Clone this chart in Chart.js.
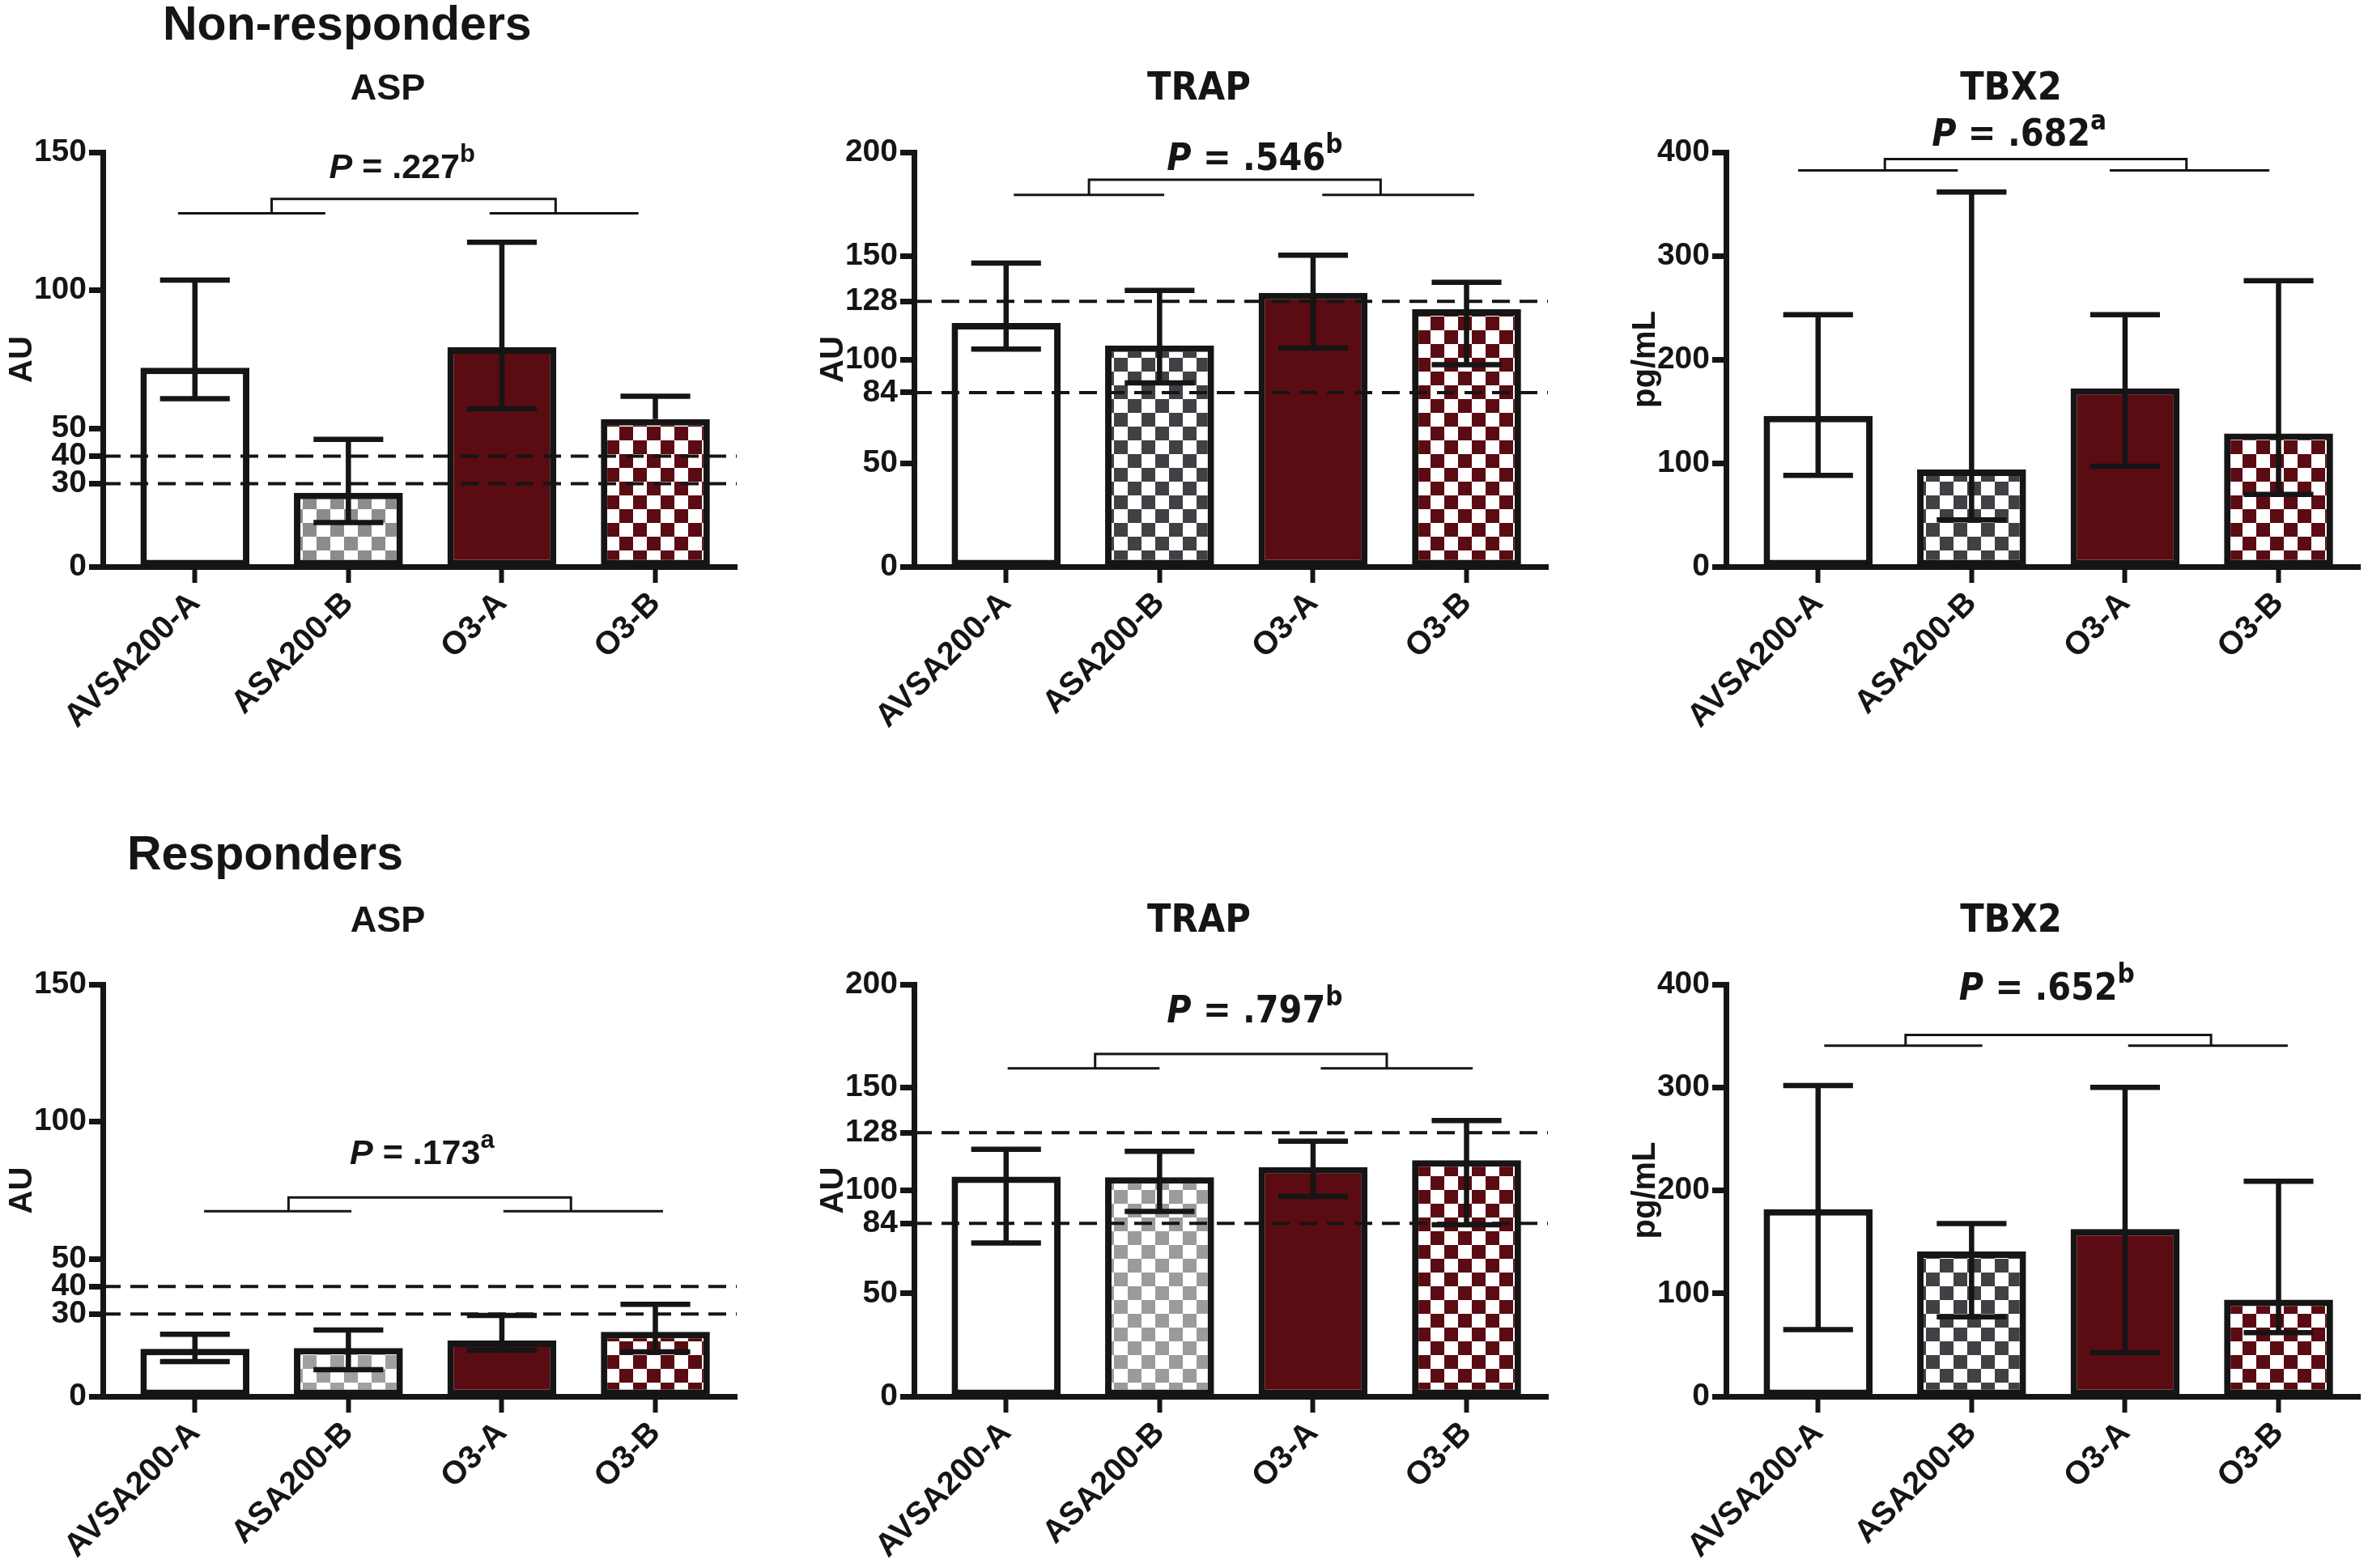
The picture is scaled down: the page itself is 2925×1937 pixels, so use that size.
<!DOCTYPE html>
<html>
<head>
<meta charset="utf-8">
<script src="https://cdn.jsdelivr.net/npm/chart.js@4.4.1/dist/chart.umd.min.js"></script>
<style>
  html, body { margin: 0; padding: 0; background: #fff; }
  #page { position: relative; width: 2925px; height: 1937px; overflow: hidden; background: #fff; }
  .panel { position: absolute; }
  .heading { position: absolute; font: bold 59px "Liberation Sans", Arial, sans-serif; line-height: 59px; color: #151515; }
</style>
</head>
<body>
<div id="page">
  <div class="heading" style="left:201px; top:0px">Non-responders</div>
  <div class="heading" style="left:157px; top:1025px">Responders</div>
</div>
<script>
const categories = ["AVSA200-A", "ASA200-B", "O3-A", "O3-B"];

// Non-responders
const nrAspMean = [72, 26.7, 79.4, 53.4];
const nrAspHigh = [103.7, 46.1, 117.4, 61.7];
const nrAspLow = [60.8, 16.0, 57.1, null];
const nrTrapMean = [117.6, 106.7, 132.1, 124.2];
const nrTrapHigh = [146.5, 133.3, 150.3, 137.2];
const nrTrapLow = [105, 88.7, 105.5, 97.5];
const nrTbxMean = [145.6, 93.7, 172, 128.6];
const nrTbxHigh = [243.2, 361.6, 243.2, 276];
const nrTbxLow = [88.1, 45.1, 96.9, 69.8];

// Responders
const rAspMean = [17.3, 17.6, 20.3, 23.5];
const rAspHigh = [22.6, 24.2, 29.5, 33.5];
const rAspLow = [12.7, 9.7, 16.8, 16.2];
const rTrapMean = [106.7, 106.4, 111.3, 114.6];
const rTrapHigh = [119.9, 119, 123.9, 133.9];
const rTrapLow = [74.5, 89.8, 97.1, 83.3];
const rTbxMean = [181.8, 140.7, 162.5, 94];
const rTbxHigh = [301.8, 167.7, 300, 208.8];
const rTbxLow = [64.9, 77.2, 42.5, 61.8];

// axis ticks and cut-off lines
const aspTicks = [0, 30, 40, 50, 100, 150];
const trapTicks = [0, 50, 84, 100, 128, 150, 200];
const tbxTicks = [0, 100, 200, 300, 400];
const aspCutoffs = [30, 40];
const trapCutoffs = [84, 128];

// P values: [value, footnote]
const nrPValues = [[".227", "b"], [".546", "b"], [".682", "a"]];
const rPValues = [[".173", "a"], [".797", "b"], [".652", "b"]];

// bracket x (category units): left from, left to, right from, right to, join left, join right, text
const nrAspBracketX = [-0.11, 0.85, 1.92, 2.89, 0.5, 2.35, 1.35];
const nrTrapBracketX = [0.05, 1.03, 2.06, 3.05, 0.54, 2.44, 1.62];
const nrTbxBracketX = [-0.13, 0.91, 1.9, 2.94, 0.435, 2.4, 1.31];
const rAspBracketX = [0.06, 1.02, 2.01, 3.05, 0.61, 2.45, 1.48];
const rTrapBracketX = [0.01, 1.0, 2.05, 3.04, 0.58, 2.48, 1.62];
const rTbxBracketX = [0.04, 1.07, 2.02, 3.06, 0.57, 2.56, 1.49];
// bracket y (data units): arms, top, text baseline
const nrAspBracketY = [127.9, 133.1, 140.7];
const nrTrapBracketY = [179.4, 186.7, 191.6];
const nrTbxBracketY = [382.4, 393.3, 406];
const rAspBracketY = [67.4, 72.4, 84.7];
const rTrapBracketY = [159.2, 166.2, 181.6];
const rTbxBracketY = [340.4, 350.9, 385];

const ink = "#151515";
const maroon = "#5b0b12";
const sans = "'Liberation Sans', Arial, sans-serif";
const narrow = "'Liberation Sans Narrow', 'DejaVu Sans Condensed', 'Liberation Sans', sans-serif";

const checker = (color, cell) => {
  const c = document.createElement("canvas");
  c.width = cell * 2;
  c.height = cell * 2;
  const g = c.getContext("2d");
  g.fillStyle = "#ffffff";
  g.fillRect(0, 0, cell * 2, cell * 2);
  g.fillStyle = color;
  g.fillRect(0, 0, cell, cell);
  g.fillRect(cell, cell, cell, cell);
  return g.createPattern(c, "repeat");
};

const plotLefts = [127, 1129, 2132];
const plotWidth = 783;
const rowTops = [188, 1216];
const rowBottoms = [700, 1725];
const padTop = 188;
const yAxisWidth = 127;
const xAxisHeight = 205;

const panels = [
  { row: 0, col: 0, title: "ASP", unit: "AU", ticks: aspTicks, cutoffs: aspCutoffs, mean: nrAspMean, high: nrAspHigh, low: nrAspLow, p: nrPValues[0], bx: nrAspBracketX, by: nrAspBracketY, gray: "#8c8c8c", font: sans },
  { row: 0, col: 1, title: "TRAP", unit: "AU", ticks: trapTicks, cutoffs: trapCutoffs, mean: nrTrapMean, high: nrTrapHigh, low: nrTrapLow, p: nrPValues[1], bx: nrTrapBracketX, by: nrTrapBracketY, gray: "#404045", font: narrow },
  { row: 0, col: 2, title: "TBX2", unit: "pg/mL", ticks: tbxTicks, cutoffs: [], mean: nrTbxMean, high: nrTbxHigh, low: nrTbxLow, p: nrPValues[2], bx: nrTbxBracketX, by: nrTbxBracketY, gray: "#404045", font: narrow },
  { row: 1, col: 0, title: "ASP", unit: "AU", ticks: aspTicks, cutoffs: aspCutoffs, mean: rAspMean, high: rAspHigh, low: rAspLow, p: rPValues[0], bx: rAspBracketX, by: rAspBracketY, gray: "#a0a0a0", font: sans },
  { row: 1, col: 1, title: "TRAP", unit: "AU", ticks: trapTicks, cutoffs: trapCutoffs, mean: rTrapMean, high: rTrapHigh, low: rTrapLow, p: rPValues[1], bx: rTrapBracketX, by: rTrapBracketY, gray: "#9b9b9b", font: narrow },
  { row: 1, col: 2, title: "TBX2", unit: "pg/mL", ticks: tbxTicks, cutoffs: [], mean: rTbxMean, high: rTbxHigh, low: rTbxLow, p: rPValues[2], bx: rTbxBracketX, by: rTbxBracketY, gray: "#404045", font: narrow },
];

const drawP = (ctx, cx, baseY, [value, note], size, family) => {
  const parts = [
    [`italic bold ${size}px ${family}`, "P", 0],
    [`bold ${size}px ${family}`, " = " + value, 0],
    [`bold ${Math.round(size * 0.72)}px ${family}`, note, size * 0.45],
  ];
  const widths = parts.map(([f, t]) => {
    ctx.font = f;
    return ctx.measureText(t).width;
  });
  let x = cx - widths.reduce((a, b) => a + b, 0) / 2;
  parts.forEach(([f, t, rise], i) => {
    ctx.font = f;
    ctx.fillText(t, x, baseY - rise);
    x += widths[i];
  });
};

const annotate = {
  id: "annotate",
  afterDatasetsDraw(chart, args, opts) {
    const { ctx, chartArea } = chart;
    const { y } = chart.scales;
    const p = opts.panel;
    ctx.save();
    ctx.strokeStyle = ink;
    ctx.lineWidth = 4;
    ctx.setLineDash([22, 12]);
    p.cutoffs.forEach((v) => {
      const py = y.getPixelForValue(v);
      ctx.beginPath();
      ctx.moveTo(chartArea.left, py);
      ctx.lineTo(chartArea.right, py);
      ctx.stroke();
    });
    ctx.setLineDash([]);
    ctx.lineWidth = 6.5;
    const meta = chart.getDatasetMeta(0);
    meta.data.forEach((bar, i) => {
      const cap = bar.width * 0.32;
      const yHi = y.getPixelForValue(p.high[i]);
      const yLo = y.getPixelForValue(p.low[i] == null ? p.mean[i] : p.low[i]);
      ctx.beginPath();
      ctx.moveTo(bar.x, yLo);
      ctx.lineTo(bar.x, yHi);
      ctx.moveTo(bar.x - cap, yHi);
      ctx.lineTo(bar.x + cap, yHi);
      if (p.low[i] != null) {
        ctx.moveTo(bar.x - cap, yLo);
        ctx.lineTo(bar.x + cap, yLo);
      }
      ctx.stroke();
    });
    ctx.restore();
  },
  afterDraw(chart, args, opts) {
    const { ctx, chartArea } = chart;
    const { x, y } = chart.scales;
    const p = opts.panel;
    const [l0, l1, r0, r1, j0, j1, tx] = p.bx;
    const [armY, topY, textY] = p.by.map((v) => y.getPixelForValue(v));
    ctx.save();
    ctx.strokeStyle = ink;
    ctx.fillStyle = ink;
    ctx.lineWidth = 3;
    ctx.beginPath();
    ctx.moveTo(x.getPixelForValue(l0), armY);
    ctx.lineTo(x.getPixelForValue(l1), armY);
    ctx.moveTo(x.getPixelForValue(r0), armY);
    ctx.lineTo(x.getPixelForValue(r1), armY);
    ctx.moveTo(x.getPixelForValue(j0), armY);
    ctx.lineTo(x.getPixelForValue(j0), topY);
    ctx.lineTo(x.getPixelForValue(j1), topY);
    ctx.lineTo(x.getPixelForValue(j1), armY);
    ctx.stroke();

    ctx.textBaseline = "alphabetic";
    ctx.textAlign = "left";
    drawP(ctx, x.getPixelForValue(tx), textY, p.p, p.font === sans ? 43 : 46, p.font);

    // panel title
    ctx.textAlign = "center";
    ctx.textBaseline = "middle";
    ctx.font = `bold ${p.font === sans ? 45 : 48}px ${p.font}`;
    ctx.fillText(p.title, chartArea.left + 352, chartArea.top - 77);

    // y axis title
    ctx.font = `bold 40px ${sans}`;
    ctx.translate(chartArea.left - 99, (chartArea.top + chartArea.bottom) / 2);
    ctx.rotate(-Math.PI / 2);
    ctx.fillText(p.unit, 0, 0);
    ctx.restore();
  },
};

const page = document.getElementById("page");

panels.forEach((p) => {
  const plotL = plotLefts[p.col];
  const top = rowTops[p.row];
  const bottom = rowBottoms[p.row];
  const wrap = document.createElement("div");
  wrap.className = "panel";
  wrap.style.left = plotL - yAxisWidth + "px";
  wrap.style.top = top - padTop + "px";
  const canvas = document.createElement("canvas");
  canvas.width = yAxisWidth + plotWidth + 8;
  canvas.height = padTop + (bottom - top) + xAxisHeight;
  wrap.appendChild(canvas);
  page.appendChild(wrap);

  new Chart(canvas, {
    type: "bar",
    data: {
      datasets: [
        {
          data: p.mean.map((v, i) => ({ x: i, y: v })),
          backgroundColor: ["#ffffff", checker(p.gray, 17), maroon, checker(maroon, 17)],
          borderColor: ink,
          borderWidth: 8,
          borderSkipped: false,
          barPercentage: 0.71,
          categoryPercentage: 1,
        },
      ],
    },
    options: {
      responsive: false,
      animation: false,
      devicePixelRatio: 1,
      layout: { padding: { top: padTop, right: 8, left: 0, bottom: 0 } },
      plugins: {
        legend: { display: false },
        tooltip: { enabled: false },
        annotate: { panel: p },
      },
      scales: {
        x: {
          type: "linear",
          min: -0.6,
          max: 3.53,
          offset: false,
          afterBuildTicks: (axis) => {
            axis.ticks = categories.map((c, i) => ({ value: i }));
          },
          grid: { offset: false, drawOnChartArea: false, drawTicks: true, tickLength: 20, tickWidth: 6, tickColor: ink },
          border: { display: true, width: 7, color: ink },
          ticks: {
            autoSkip: false,
            maxRotation: 45,
            minRotation: 45,
            padding: 2,
            color: ink,
            font: { family: sans, weight: "bold", size: 40 },
            callback: (v) => categories[v],
          },
          afterFit: (s) => {
            s.height = xAxisHeight;
          },
        },
        y: {
          min: 0,
          max: p.ticks[p.ticks.length - 1],
          afterBuildTicks: (axis) => {
            axis.ticks = p.ticks.map((v) => ({ value: v }));
          },
          grid: { drawOnChartArea: false, drawTicks: true, tickLength: 17, tickWidth: 7, tickColor: ink },
          border: { display: true, width: 7, color: ink },
          ticks: { autoSkip: false, padding: 3, color: ink, font: { family: sans, weight: "bold", size: 39 } },
          afterFit: (s) => {
            s.width = yAxisWidth;
          },
        },
      },
    },
    plugins: [annotate],
  });
});
</script>
</body>
</html>
